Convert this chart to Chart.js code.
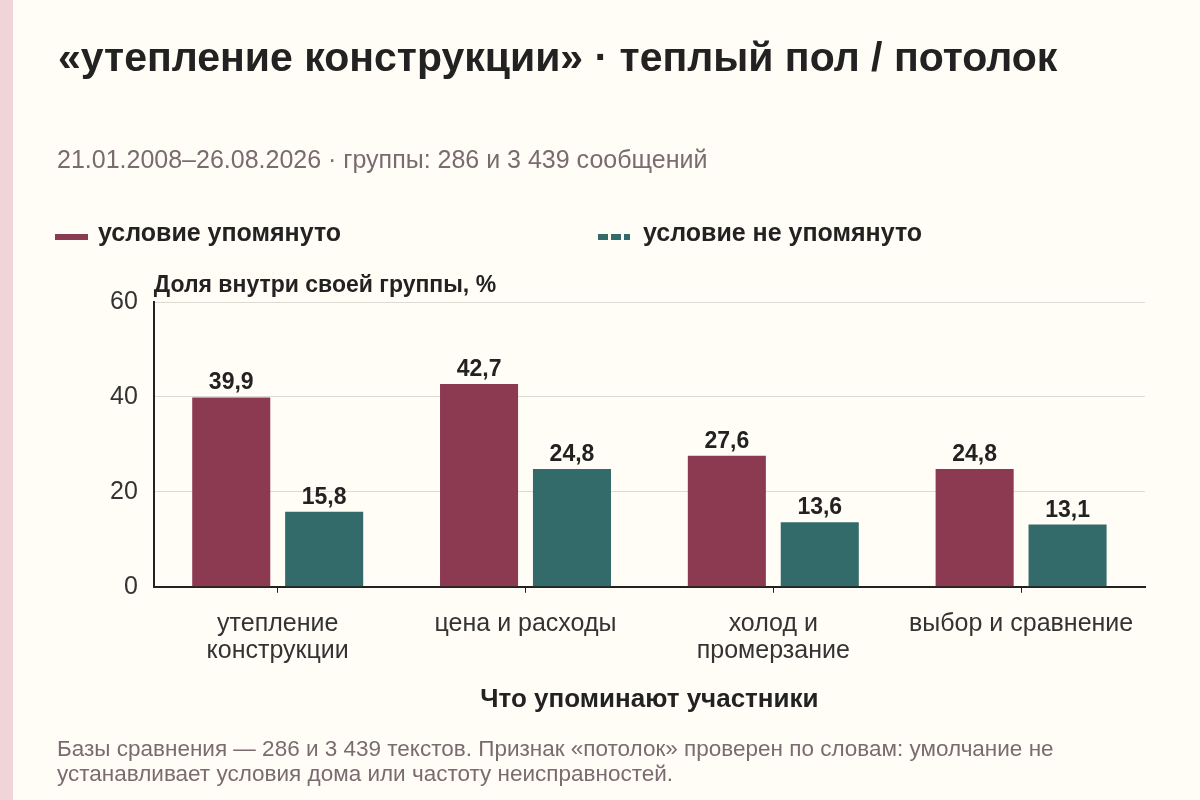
<!DOCTYPE html>
<html lang="ru">
<head>
<meta charset="utf-8">
<title>утепление конструкции · теплый пол / потолок</title>
<script src="https://cdn.jsdelivr.net/npm/chart.js@4.4.1/dist/chart.umd.min.js"></script>
<style>
  html, body { margin: 0; padding: 0; }
  body {
    width: 1200px; height: 800px; position: relative; overflow: hidden;
    background: #fffdf6;
    font-family: "Liberation Sans", Arial, sans-serif;
    color: #222;
  }
  .strip { position: absolute; left: 0; top: 0; width: 13px; height: 800px; background: #f0d4da; }
  #wrap { position: absolute; left: 0; top: 0; width: 1200px; height: 800px; }
  .txt { position: absolute; white-space: nowrap; }
  #title { left: 58px; top: 34px; font-size: 41px; font-weight: bold; color: #222; }
  #subtitle { left: 57px; top: 145px; font-size: 25px; color: #7a6b70; }
  .legend { top: 218px; font-size: 25px; font-weight: bold; color: #222; }
  .sw { position: absolute; top: 16px; width: 33px; height: 6px; }
  #lg1 { left: 98px; }
  #lg2 { left: 643px; }
  #lg1 .sw { left: -43px; background: #8b3a52; }
  #lg2 .sw { left: -45px; width: 32px; background: repeating-linear-gradient(90deg, #336b6a 0 10px, transparent 10px 13px); }
  #note { left: 57px; top: 736px; font-size: 22.5px; line-height: 25px; color: #7a6b70; }
</style>
</head>
<body>
<div class="strip"></div>
<div id="wrap"><canvas id="chart" width="1200" height="800"></canvas></div>
<div class="txt" id="title">«утепление конструкции» · теплый пол / потолок</div>
<div class="txt" id="subtitle">21.01.2008–26.08.2026 · группы: 286 и 3 439 сообщений</div>
<div class="txt legend" id="lg1"><span class="sw"></span>условие упомянуто</div>
<div class="txt legend" id="lg2"><span class="sw"></span>условие не упомянуто</div>
<div class="txt" id="note">Базы сравнения — 286 и 3 439 текстов. Признак «потолок» проверен по словам: умолчание не<br>устанавливает условия дома или частоту неисправностей.</div>

<script>
const categories = [
  ['утепление', 'конструкции'],
  'цена и расходы',
  ['холод и', 'промерзание'],
  'выбор и сравнение'
];
const mentioned = [39.9, 42.7, 27.6, 24.8];
const notMentioned = [15.8, 24.8, 13.6, 13.1];
const yTicks = [0, 20, 40, 60];

const FONT = '"Liberation Sans", Arial, sans-serif';

// value labels above each bar
const barLabels = {
  id: 'barLabels',
  afterDatasetsDraw(chart) {
    const ctx = chart.ctx;
    ctx.save();
    ctx.font = 'bold 23px ' + FONT;
    ctx.fillStyle = '#222';
    ctx.textAlign = 'center';
    ctx.textBaseline = 'alphabetic';
    chart.data.datasets.forEach((ds, i) => {
      chart.getDatasetMeta(i).data.forEach((bar, j) => {
        ctx.fillText(ds.data[j].toFixed(1).replace('.', ','), bar.x, bar.y - 8);
      });
    });
    ctx.restore();
  }
};

// y axis title sits above the plot, left aligned
const yTitle = {
  id: 'yTitle',
  afterDraw(chart) {
    const ctx = chart.ctx;
    ctx.save();
    ctx.font = 'bold 23px ' + FONT;
    ctx.fillStyle = '#222';
    ctx.textAlign = 'left';
    ctx.textBaseline = 'alphabetic';
    ctx.fillText('Доля внутри своей группы, %', chart.chartArea.left, chart.chartArea.top - 10);
    ctx.restore();
  }
};

new Chart(document.getElementById('chart'), {
  type: 'bar',
  data: {
    labels: categories,
    datasets: [
      { label: 'условие упомянуто', data: mentioned, backgroundColor: '#8b3a52' },
      { label: 'условие не упомянуто', data: notMentioned, backgroundColor: '#336b6a' }
    ]
  },
  options: {
    responsive: false,
    animation: false,
    devicePixelRatio: 1,
    categoryPercentage: 0.75,
    barPercentage: 0.84,
    layout: { padding: { top: 302, right: 55, left: 94, bottom: 85 } },
    plugins: {
      legend: { display: false },
      tooltip: { enabled: false }
    },
    scales: {
      x: {
        grid: { display: true, drawOnChartArea: false, offset: false, tickLength: 6, color: '#222', lineWidth: 1 },
        border: { display: true, color: '#222', width: 2 },
        ticks: { color: '#333', font: { family: FONT, size: 25, lineHeight: 1.08 }, padding: 18, maxRotation: 0 },
        title: {
          display: true,
          text: 'Что упоминают участники',
          color: '#222',
          font: { family: FONT, size: 26, weight: 'bold' },
          padding: { top: 1, bottom: 0 }
        }
      },
      y: {
        min: 0,
        max: 60,
        afterBuildTicks(axis) { axis.ticks = yTicks.map(v => ({ value: v })); },
        grid: { color: '#dcdad4', lineWidth: 1, drawTicks: false },
        border: { display: true, color: '#222', width: 2 },
        ticks: { color: '#333', font: { family: FONT, size: 25 }, padding: 16 }
      }
    }
  },
  plugins: [barLabels, yTitle]
});
</script>
</body>
</html>
